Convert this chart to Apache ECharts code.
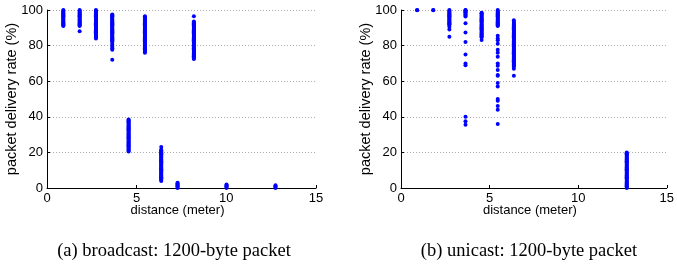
<!DOCTYPE html>
<html><head><meta charset="utf-8">
<script src="https://cdn.jsdelivr.net/npm/echarts@6/dist/echarts.min.js"></script>
<style>html,body{margin:0;padding:0;background:#fff}#c{width:677px;height:268px}</style>
</head><body><div id="c"></div>
<script>
const xTicks = [0, 5, 10, 15];
const yTicks = [0, 20, 40, 60, 80, 100];
const captions = ['(a) broadcast: 1200-byte packet', '(b) unicast: 1200-byte packet'];

const broadcastDistances = [0.91, 1.82, 2.73, 3.64, 4.55, 5.46, 6.37, 7.28, 8.19, 10.01, 12.74];
const broadcastRates = [
  [91, 91.5, 92, 92.5, 93, 93.5, 94, 94.5, 95, 95.5, 96, 96.5, 97, 97.5, 98, 98.5, 99, 99.5, 100],
  [88, 91, 91.5, 92, 92.5, 93, 93.5, 94, 94.5, 95, 95.5, 96, 96.5, 97, 97.5, 98, 98.5, 99, 99.5, 100],
  [84, 84.5, 85, 85.5, 86, 86.5, 87, 87.5, 88, 88.5, 89, 89.5, 90, 90.5, 91, 91.5, 92, 92.5, 93, 93.5, 94, 94.5, 95, 95.5, 96, 96.5, 97, 97.5, 98, 98.5, 99, 99.5, 100],
  [72, 77.6, 78.5, 79.5, 80.5, 81.5, 82.5, 83, 83.5, 84, 84.5, 85, 85.5, 86, 86.5, 87, 87.5, 88, 88.5, 89, 89.5, 90, 90.5, 91, 91.5, 92, 92.5, 93, 93.5, 94, 94.5, 95, 95.5, 96, 96.5, 97, 97.5],
  [20.5, 21, 21.5, 22, 22.5, 23, 23.5, 24, 24.5, 25, 25.5, 26, 26.5, 27, 27.5, 28, 28.5, 29, 29.5, 30, 30.5, 31, 31.5, 32, 32.5, 33, 33.5, 34, 34.5, 35, 35.5, 36, 36.5, 37, 37.5, 38, 38.5],
  [76, 76.5, 77, 77.5, 78, 78.5, 79, 79.5, 80, 80.5, 81, 81.5, 82, 82.5, 83, 83.5, 84, 84.5, 85, 85.5, 86, 86.5, 87, 87.5, 88, 88.5, 89, 89.5, 90, 90.5, 91, 91.5, 92, 92.5, 93, 93.5, 94, 94.5, 95, 95.5, 96, 96.5],
  [4, 4.5, 5, 5.5, 6, 6.5, 7, 7.5, 8, 8.5, 9, 9.5, 10, 10.5, 11, 11.5, 12, 12.5, 13, 13.5, 14, 14.5, 15, 15.5, 16, 16.5, 17, 17.5, 18, 18.5, 19, 19.5, 20, 20.5, 21, 21.5, 23],
  [0, 0.5, 1, 1.5, 2, 2.5, 3],
  [72.5, 73, 73.5, 74, 74.5, 75, 75.5, 76, 76.5, 77, 77.5, 78, 78.5, 79, 79.5, 80, 80.5, 81, 81.5, 82, 82.5, 83, 83.5, 84, 84.5, 85, 85.5, 86, 86.5, 87, 87.5, 88, 88.5, 89, 89.5, 90, 90.5, 91, 91.5, 92, 92.5, 93, 93.5, 96.5],
  [0, 0.5, 1, 1.5, 2],
  [0, 0.5, 1, 1.5]
];

const unicastDistances = [0.91, 1.82, 2.73, 3.64, 4.55, 5.46, 6.37, 12.74];
const unicastRates = [
  [99.8, 100],
  [99.8, 100],
  [85, 89, 90.6, 91.6, 92, 92.5, 93, 93.5, 94, 94.5, 95, 95.5, 96, 96.5, 97, 97.5, 98, 98.5, 99, 99.5, 100],
  [35.6, 37.5, 40, 69, 70, 75, 82, 87.3, 92.6, 96.3, 96.8, 97.3, 97.8, 98.3, 98.8, 99.3, 99.8, 100],
  [83.2, 84.7, 85.2, 85.7, 86.2, 86.7, 87.2, 87.7, 88.2, 88.7, 89.2, 89.7, 90.2, 90.7, 91.2, 91.7, 92.2, 92.7, 93.2, 93.7, 94.2, 94.7, 95.2, 95.7, 96.2, 96.7, 97.2, 97.7, 98.2, 98.5],
  [36, 44, 46, 49, 50, 57, 59, 63, 63.5, 66.3, 68.7, 70, 73.8, 76, 77.6, 81, 83, 84, 85.6, 91, 91.5, 92, 92.5, 93, 93.5, 94, 94.5, 95, 95.5, 96, 96.5, 97, 97.5, 98, 98.5, 99, 99.5, 100],
  [63, 67, 68.2, 68.7, 69.2, 69.7, 70.2, 70.7, 71.2, 71.7, 72.2, 72.7, 73.2, 73.7, 74.2, 74.7, 75.2, 75.7, 76.2, 76.7, 77.2, 77.7, 78.2, 78.7, 79.2, 79.7, 80.2, 80.7, 81.2, 81.7, 82.2, 82.7, 83.2, 83.7, 84.2, 84.7, 85.2, 85.7, 86.2, 86.7, 87.2, 87.7, 88.2, 88.7, 89.2, 89.7, 90.2, 90.7, 91.2, 91.7, 92.2, 92.7, 93.2, 94.3],
  [0, 0.5, 1, 1.5, 2, 2.5, 3, 3.5, 4, 4.5, 5, 5.5, 6, 6.5, 7, 7.5, 8, 8.5, 9, 9.5, 10, 10.5, 11, 11.5, 12, 12.5, 13, 13.5, 14, 14.5, 15, 15.5, 16, 16.5, 17, 17.5, 18, 18.5, 19, 19.5, 20]
];

function pairs(ds, rs) {
  const out = [];
  ds.forEach((d, i) => rs[i].forEach(r => out.push([d, r])));
  return out;
}

const font = 'Liberation Sans, Arial, Helvetica, sans-serif';
const grids = [
  { left: 47, top: 10, width: 269, height: 178 },
  { left: 401, top: 10, width: 269, height: 178 }
];
function xAxis(gi) {
  return {
    gridIndex: gi, type: 'value', min: xTicks[0], max: xTicks[xTicks.length - 1], interval: 5,
    name: 'distance (meter)', nameLocation: 'middle', nameGap: 16, nameMoveOverlap: false,
    nameTextStyle: { color: '#000', fontSize: 13, fontFamily: font, verticalAlign: 'top', padding: [0, 8, 0, 0] },
    axisLine: { lineStyle: { color: '#000', width: 1 } },
    axisTick: { inside: true, length: 3, lineStyle: { color: '#000' } },
    axisLabel: { color: '#000', fontSize: 13, fontFamily: font, margin: 4 },
    splitLine: { show: false }
  };
}
function yAxis(gi) {
  return {
    gridIndex: gi, type: 'value', min: yTicks[0], max: yTicks[yTicks.length - 1], interval: 20,
    name: 'packet delivery rate (%)', nameLocation: 'middle', nameGap: 28, nameMoveOverlap: false,
    nameTextStyle: { color: '#000', fontSize: 14.5, fontFamily: font },
    axisLine: { show: true, lineStyle: { color: '#000', width: 1 } },
    axisTick: { show: true, inside: true, length: 3, lineStyle: { color: '#000' } },
    axisLabel: { color: '#000', fontSize: 13, fontFamily: font, margin: 4 },
    splitLine: { show: true, lineStyle: { color: '#aaa', type: [1, 2], width: 1 } }
  };
}
const capFont = '18.5px "Liberation Serif", "Times New Roman", serif';
const chart = echarts.init(document.getElementById('c'), null, { renderer: 'canvas' });
chart.setOption({
  animation: false,
  backgroundColor: '#fff',
  grid: grids,
  xAxis: [xAxis(0), xAxis(1)],
  yAxis: [yAxis(0), yAxis(1)],
  series: [
    { type: 'scatter', xAxisIndex: 0, yAxisIndex: 0, symbolSize: 4, itemStyle: { color: '#0000ff', opacity: 1 }, data: pairs(broadcastDistances, broadcastRates) },
    { type: 'scatter', xAxisIndex: 1, yAxisIndex: 1, symbolSize: 4, itemStyle: { color: '#0000ff', opacity: 1 }, data: pairs(unicastDistances, unicastRates) }
  ],
  graphic: [
    { type: 'text', x: 174, y: 251, style: { text: captions[0], fill: '#000', font: capFont, textAlign: 'center', textVerticalAlign: 'middle' } },
    { type: 'text', x: 529, y: 251, style: { text: captions[1], fill: '#000', font: capFont, textAlign: 'center', textVerticalAlign: 'middle' } }
  ]
});
</script></body></html>
